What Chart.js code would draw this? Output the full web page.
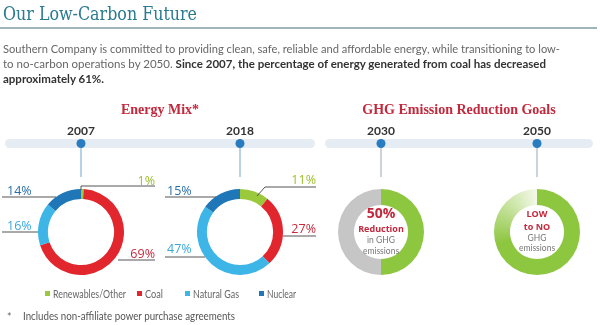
<!DOCTYPE html>
<html>
<head>
<meta charset="utf-8">
<script src="https://cdn.jsdelivr.net/npm/chart.js"></script>
<style>
html, body { margin: 0; padding: 0; background: #fff; }
#page { position: relative; width: 600px; height: 325px; overflow: hidden; }
#page canvas { position: absolute; }
#deco { position: absolute; left: 0; top: 0; pointer-events: none; }
</style>
</head>
<body>
<div id="page">
  <canvas id="c2007" width="86" height="86" style="left:38px;top:189px"></canvas>
  <canvas id="c2018" width="86" height="86" style="left:197px;top:189px"></canvas>
  <canvas id="c2030" width="86" height="86" style="left:338px;top:189px"></canvas>
  <canvas id="c2050" width="86" height="86" style="left:494px;top:189px"></canvas>
  <svg id="deco" width="600" height="325" xmlns="http://www.w3.org/2000/svg"></svg>
</div>
<script>
// data
const categories = ['Renewables/Other', 'Coal', 'Natural Gas', 'Nuclear'];
const mix2007 = [1, 69, 16, 14];
const mix2018 = [11, 27, 47, 15];
const goalLabels = ['Reduction', 'Remaining'];
const goal2030 = [50, 50];
const goal2050 = [100];
const years = ['2007', '2018', '2030', '2050'];

const catColors = ['#9bc93c', '#e2262d', '#3db5e6', '#1f77b8'];
const labelColors = ['#9bbf2e', '#c9283a', '#3aa9da', '#2a6fa8'];
const ghgGreen = '#8dc63f';
const ghgGray = '#c6c6c6';

const svg = document.getElementById('deco');
const NS = 'http://www.w3.org/2000/svg';

function el(tag, attrs, text) {
    const e = document.createElementNS(NS, tag);
    for (const k in attrs) e.setAttribute(k, attrs[k]);
    if (text !== undefined) e.textContent = text;
    svg.appendChild(e);
    return e;
}

function txt(x, y, s, opts) {
    return el('text', Object.assign({
        x: x, y: y, 'dominant-baseline': 'central',
        'font-family': 'Lato, sans-serif', 'font-size': 11, fill: '#666'
    }, opts), s);
}

// header
txt(3, 13, 'Our Low-Carbon Future', {
    'font-family': '"DejaVu Serif", serif', 'font-size': 19, fill: '#2a7a90',
    textLength: 194, lengthAdjust: 'spacingAndGlyphs'
});
el('line', { x1: 0, y1: 28, x2: 597, y2: 28, stroke: '#7f9ba4', 'stroke-width': 1.5 });

txt(3, 48, 'Southern Company is committed to providing clean, safe, reliable and affordable energy, while transitioning to low-', {
    'font-size': 11.5, textLength: 557, lengthAdjust: 'spacingAndGlyphs'
});
const p2 = txt(3, 63, '', { 'font-size': 11.5, textLength: 543, lengthAdjust: 'spacingAndGlyphs' });
const t1 = document.createElementNS(NS, 'tspan');
t1.textContent = 'to no-carbon operations by 2050. ';
p2.appendChild(t1);
const t2 = document.createElementNS(NS, 'tspan');
t2.setAttribute('font-weight', 'bold');
t2.setAttribute('fill', '#333');
t2.textContent = 'Since 2007, the percentage of energy generated from coal has decreased';
p2.appendChild(t2);
txt(3, 78, 'approximately 61%.', { 'font-size': 11.5, 'font-weight': 'bold', fill: '#333' });

// section titles
const serifHead = { 'font-family': '"Liberation Serif", serif', 'font-size': 14, 'font-weight': 'bold', fill: '#c3283c', 'text-anchor': 'middle' };
txt(160, 109, 'Energy Mix*', serifHead);
txt(459, 109, 'GHG Emission Reduction Goals', serifHead);

// timeline
el('rect', { x: 5, y: 139, width: 310, height: 9, rx: 4.5, fill: '#e6ecf3' });
el('rect', { x: 325, y: 139, width: 268, height: 9, rx: 4.5, fill: '#e6ecf3' });
const centersX = [81, 240, 381, 537];
years.forEach(function(y, i) {
    const cx = centersX[i];
    txt(cx, 130, y, { 'font-size': 12, 'font-weight': 'bold', fill: '#333', 'text-anchor': 'middle' });
    el('line', { x1: cx, y1: 146, x2: cx, y2: 177, stroke: i < 2 ? '#6fa7cf' : '#9aa6ae', 'stroke-width': 1 });
    el('circle', { cx: cx, cy: 143.5, r: 4.5, fill: '#2a7cc0' });
});

// percentage callouts (layout only; values come from the data arrays)
const callouts2007 = [
    { x: 155, y: 180, anchor: 'end', pts: [[81, 190], [81, 186], [155, 186]] },
    { x: 155, y: 253, anchor: 'end', pts: [[118, 260], [155, 260]] },
    { x: 7, y: 225, anchor: 'start', pts: [[2, 232], [38, 232]] },
    { x: 7, y: 190, anchor: 'start', pts: [[2, 197], [56, 197]] }
];
const callouts2018 = [
    { x: 316, y: 179, anchor: 'end', pts: [[257, 196], [265, 187], [316, 187]] },
    { x: 316, y: 228, anchor: 'end', pts: [[283, 236], [316, 236]] },
    { x: 167, y: 248, anchor: 'start', pts: [[165, 257], [205, 257]] },
    { x: 167, y: 190, anchor: 'start', pts: [[165, 197], [216, 197]] }
];
function callouts(values, layout) {
    values.forEach(function(v, i) {
        const c = layout[i];
        el('polyline', { points: c.pts.map(function(p) { return p.join(','); }).join(' '), fill: 'none', stroke: '#555', 'stroke-width': 1 });
        txt(c.x, c.y, v + '%', { 'font-family': '"Open Sans", sans-serif', 'font-size': 12.5, fill: labelColors[i], 'text-anchor': c.anchor });
    });
}
callouts(mix2007, callouts2007);
callouts(mix2018, callouts2018);

// legend
const legendX = [45, 137, 185, 259];
const legendW = [73, 18, 46, 29];
categories.forEach(function(c, i) {
    el('rect', { x: legendX[i], y: 291, width: 5, height: 5, fill: catColors[i] });
    txt(legendX[i] + 8, 293.5, c, { 'font-size': 10.5, fill: '#666', textLength: legendW[i], lengthAdjust: 'spacingAndGlyphs' });
});

// footnote
txt(7, 317, '*', { 'font-size': 10.5 });
txt(23, 316, 'Includes non-affiliate power purchase agreements', { 'font-size': 10.5, fill: '#555', textLength: 212, lengthAdjust: 'spacingAndGlyphs' });

// goal centre texts
const red = '#c3283c';
const sansB = '"Open Sans", sans-serif';
txt(381, 212, goal2030[0] + '%', { 'font-family': sansB, 'font-size': 14, 'font-weight': 'bold', fill: red, 'text-anchor': 'middle' });
txt(381, 228, 'Reduction', { 'font-family': sansB, 'font-size': 9, 'font-weight': 'bold', fill: red, 'text-anchor': 'middle' });
txt(381, 240, 'in GHG', { 'font-size': 8.5, fill: '#777', 'text-anchor': 'middle' });
txt(381, 251, 'emissions', { 'font-size': 8.5, fill: '#777', 'text-anchor': 'middle' });
txt(537, 213, 'LOW', { 'font-family': sansB, 'font-size': 9, 'font-weight': 'bold', fill: red, 'text-anchor': 'middle' });
txt(537, 226, 'to NO', { 'font-family': sansB, 'font-size': 9, 'font-weight': 'bold', fill: red, 'text-anchor': 'middle' });
txt(537, 237.5, 'GHG', { 'font-size': 8.5, fill: '#777', 'text-anchor': 'middle' });
txt(537, 248, 'emissions', { 'font-size': 8.5, fill: '#777', 'text-anchor': 'middle' });

// charts
function donut(id, labels, values, colors, cutout) {
    return new Chart(document.getElementById(id), {
        type: 'doughnut',
        data: {
            labels: labels,
            datasets: [{ data: values, backgroundColor: colors, borderWidth: 0 }]
        },
        options: {
            responsive: false,
            animation: false,
            events: [],
            cutout: cutout,
            layout: { padding: 0 },
            plugins: { legend: { display: false }, tooltip: { enabled: false } }
        }
    });
}

donut('c2007', categories, mix2007, catColors, '77%');
donut('c2018', categories, mix2018, catColors, '77%');
donut('c2030', goalLabels, goal2030, [ghgGreen, ghgGray], '63%');
donut('c2050', ['Low to no emissions'], goal2050, function(ctx) {
    const chart = ctx.chart;
    const area = chart.chartArea;
    if (!area || !chart.ctx.createConicGradient) return ghgGreen;
    const g = chart.ctx.createConicGradient(-Math.PI / 2, (area.left + area.right) / 2, (area.top + area.bottom) / 2);
    g.addColorStop(0, ghgGreen);
    g.addColorStop(0.7, ghgGreen);
    g.addColorStop(1, '#f4f9ea');
    return g;
}, '63%');
</script>
</body>
</html>
